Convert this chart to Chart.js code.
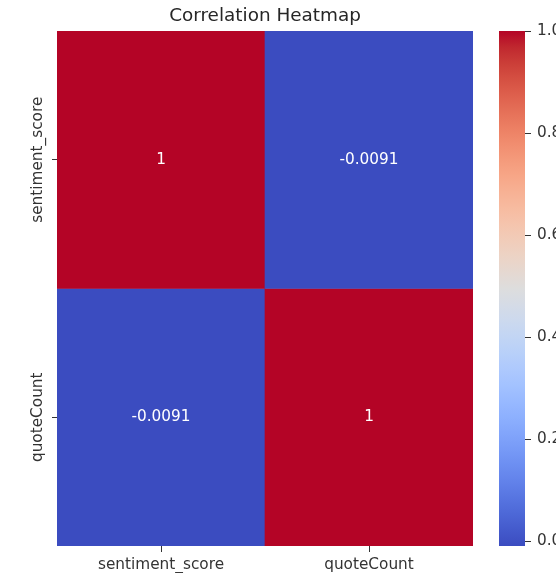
<!DOCTYPE html>
<html>
<head>
<meta charset="utf-8">
<title>Correlation Heatmap</title>
<script src="https://cdn.jsdelivr.net/npm/chart.js@4/dist/chart.umd.min.js"></script>
<style>
  html, body { margin: 0; padding: 0; background: #fff; overflow: hidden; }
  #wrap { position: relative; width: 556px; height: 573px; }
  #heatmap { position: absolute; left: 0; top: 0; }
  #colorbar { position: absolute; left: 480px; top: 0; }
</style>
</head>
<body>
<div id="wrap">
  <canvas id="heatmap" width="556" height="573"></canvas>
  <canvas id="colorbar" width="76" height="573"></canvas>
</div>
<script>
const chartTitle = 'Correlation Heatmap';
const variables = ['sentiment_score', 'quoteCount'];
const corrValues = [
    [1, -0.0091],
    [-0.0091, 1]
];
const colorbarTicks = [0.0, 0.2, 0.4, 0.6, 0.8, 1.0];

const vmin = Math.min(...corrValues.flat());
const vmax = Math.max(...corrValues.flat());

// matplotlib "coolwarm", 33 samples from blue to red
const coolwarm = [
    [59, 76, 192], [68, 90, 204], [77, 104, 215], [87, 117, 225],
    [98, 130, 234], [108, 142, 241], [119, 154, 247], [130, 165, 251],
    [141, 176, 254], [152, 185, 255], [163, 194, 255], [174, 201, 253],
    [184, 208, 249], [194, 213, 244], [204, 217, 238], [213, 219, 230],
    [221, 221, 221], [229, 216, 209], [236, 211, 197], [241, 204, 185],
    [245, 196, 173], [247, 187, 160], [247, 177, 148], [247, 166, 135],
    [244, 154, 123], [241, 141, 111], [236, 127, 99], [229, 112, 88],
    [222, 96, 77], [213, 80, 66], [203, 62, 56], [192, 40, 47],
    [180, 4, 38]
];

function rgb(c) {
    return `rgb(${Math.round(c[0])}, ${Math.round(c[1])}, ${Math.round(c[2])})`;
}

function coolwarmAt(t) {
    t = Math.min(1, Math.max(0, t));
    const pos = t * (coolwarm.length - 1);
    const i = Math.min(Math.floor(pos), coolwarm.length - 2);
    const f = pos - i;
    const a = coolwarm[i], b = coolwarm[i + 1];
    return rgb([0, 1, 2].map(k => a[k] + (b[k] - a[k]) * f));
}

function colorFor(v) {
    return coolwarmAt((v - vmin) / (vmax - vmin));
}

const FONT = '"DejaVu Sans", sans-serif';
const FONT_SIZE = 15.3;
const TEXT_COLOR = '#333333';
Chart.defaults.font.family = FONT;

// title centred over the cells, not over the whole canvas
const axesTitle = {
    id: 'axesTitle',
    afterDraw(chart) {
        const {ctx, chartArea} = chart;
        ctx.save();
        ctx.font = `18.4px ${FONT}`;
        ctx.fillStyle = '#262626';
        ctx.textAlign = 'center';
        ctx.textBaseline = 'middle';
        ctx.fillText(chartTitle, (chartArea.left + chartArea.right) / 2, 16);
        ctx.restore();
    }
};

// value written in the middle of every cell
const cellLabels = {
    id: 'cellLabels',
    afterDatasetsDraw(chart) {
        const ctx = chart.ctx;
        ctx.save();
        ctx.font = `${FONT_SIZE}px ${FONT}`;
        ctx.fillStyle = '#ffffff';
        ctx.textAlign = 'center';
        ctx.textBaseline = 'middle';
        chart.data.datasets.forEach((ds, r) => {
            chart.getDatasetMeta(r).data.forEach((bar, c) => {
                ctx.fillText(String(corrValues[r][c]), bar.x, (bar.y + bar.base) / 2);
            });
        });
        ctx.restore();
    }
};

// vertical row names next to the y ticks
const rowLabels = {
    id: 'rowLabels',
    afterDraw(chart) {
        const scale = chart.scales.y;
        const ctx = chart.ctx;
        const x = scale.right - scale.options.grid.tickLength - 6 - 8;
        ctx.save();
        ctx.font = `${FONT_SIZE}px ${FONT}`;
        ctx.fillStyle = TEXT_COLOR;
        ctx.textAlign = 'center';
        ctx.textBaseline = 'middle';
        scale.ticks.forEach((tick, i) => {
            ctx.save();
            ctx.translate(x, scale.getPixelForValue(tick.value));
            ctx.rotate(-Math.PI / 2);
            ctx.fillText(variables[i], 0, 0);
            ctx.restore();
        });
        ctx.restore();
    }
};

new Chart('heatmap', {
    type: 'bar',
    data: {
        labels: variables,
        datasets: corrValues.map((row, r) => ({
            data: row.map(() => [r, r + 1]),
            backgroundColor: row.map(colorFor),
            borderWidth: 0,
            barPercentage: 1,
            categoryPercentage: 1,
            grouped: false
        }))
    },
    options: {
        responsive: false,
        animation: false,
        layout: {padding: {left: 0, right: 83, top: 31, bottom: 0}},
        plugins: {
            legend: {display: false},
            tooltip: {enabled: false},
            title: {display: false}
        },
        scales: {
            x: {
                grid: {drawOnChartArea: false, offset: false, tickLength: 6, color: TEXT_COLOR},
                border: {display: false},
                ticks: {color: TEXT_COLOR, font: {size: FONT_SIZE}, padding: 4, maxRotation: 0},
                afterFit(scale) { scale.height = 27; }
            },
            y: {
                type: 'linear',
                min: 0,
                max: variables.length,
                reverse: true,
                grid: {drawOnChartArea: false, tickLength: 5, color: TEXT_COLOR},
                border: {display: false},
                ticks: {display: false},
                afterBuildTicks(scale) {
                    scale.ticks = variables.map((v, i) => ({value: i + 0.5}));
                },
                afterFit(scale) { scale.width = 57; }
            }
        }
    },
    plugins: [cellLabels, rowLabels, axesTitle]
});

function colorbarFill(context) {
    const chart = context.chart;
    const area = chart.chartArea;
    if (!area) return null;
    const g = chart.ctx.createLinearGradient(0, area.bottom, 0, area.top);
    coolwarm.forEach((c, i) => g.addColorStop(i / (coolwarm.length - 1), rgb(c)));
    return g;
}

new Chart('colorbar', {
    type: 'bar',
    data: {
        labels: ['colorbar'],
        datasets: [{
            data: [[vmin, vmax]],
            backgroundColor: colorbarFill,
            borderWidth: 0,
            barPercentage: 1,
            categoryPercentage: 1
        }]
    },
    options: {
        responsive: false,
        animation: false,
        layout: {padding: {left: 19, right: 0, top: 31, bottom: 27}},
        plugins: {
            legend: {display: false},
            tooltip: {enabled: false}
        },
        scales: {
            x: {display: false},
            y: {
                position: 'right',
                min: vmin,
                max: vmax,
                grid: {drawOnChartArea: false, tickLength: 6, color: TEXT_COLOR},
                border: {display: false},
                ticks: {
                    color: TEXT_COLOR,
                    font: {size: FONT_SIZE},
                    padding: 6,
                    callback: v => v.toFixed(1)
                },
                afterBuildTicks(scale) {
                    scale.ticks = colorbarTicks.map(v => ({value: v}));
                },
                afterFit(scale) { scale.width = 31; }
            }
        }
    }
});
</script>
</body>
</html>
